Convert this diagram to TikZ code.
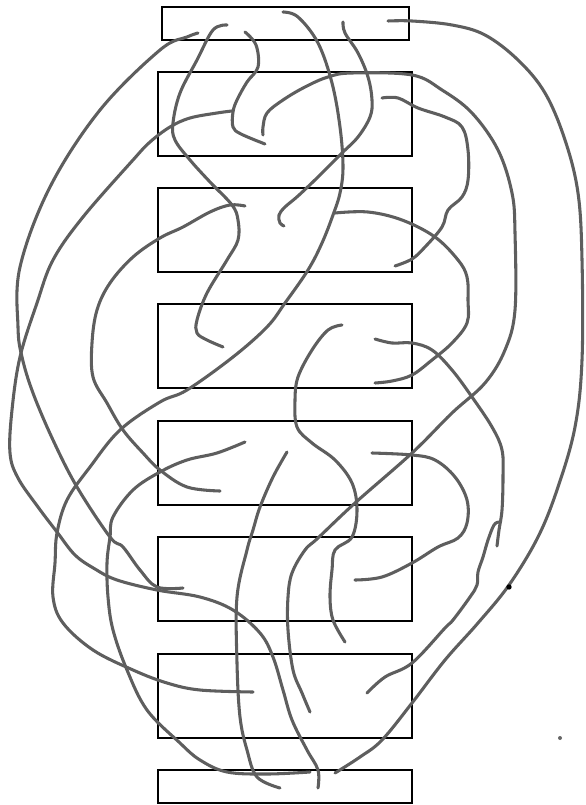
\documentclass[tikz,border=0pt]{standalone}
\begin{document}
\begin{tikzpicture}[x=0.75pt,y=-0.75pt,
    box/.style={draw=black,line width=2pt},
    strand/.style={draw=black!63,line width=2.3pt,line cap=round,line join=round}]
  \useasboundingbox (0,0) rectangle (585,805);
  % boxes
  \draw[box] (162,7) rectangle (409,40);
  \foreach \y in {72,188,304,421,537,654} {
    \draw[box] (158,\y) rectangle (412,\y+84);
  }
  \draw[box] (158,770) rectangle (412,803);

  % strands from the top box
  \draw[strand] plot[smooth,tension=0.6] coordinates {(198,33) (187,37) (160,50) (100,110) (50,187) (20,267) (18,327)
    (22,357) (33,393) (53,440) (77,487) (110,537) (123,547) (140,570) (157,587) (183,588)};
  \draw[strand] plot[smooth,tension=0.6] coordinates {(227,25) (213,30) (197,60) (180,93) (173,123) (175,140) (190,160)
    (210,182) (232,205) (238,220) (238,240) (227,260) (207,293) (197,320) (197,333) (207,340) (223,347)};
  \draw[strand] plot[smooth,tension=0.6] coordinates {(245,32) (256,45) (258,67) (247,82) (237,100) (233,112) (233,127)
    (241,134) (265,144)};
  \draw[strand] plot[smooth,tension=0.6] coordinates {(283,12) (298,17) (318,43) (332,83) (340,127) (343,167) (340,193)
    (333,215) (322,243) (308,270) (285,303) (267,327) (233,357) (187,390) (160,402) (120,430) (90,467) (67,500) (57,533)
    (55,563) (53,597) (63,623) (93,650) (133,670) (167,683) (200,690) (253,692)};
  \draw[strand] plot[smooth,tension=0.6] coordinates {(343,22) (345,33) (358,53) (368,77) (372,100) (370,117) (358,137)
    (342,153) (318,177) (298,196) (285,207) (279,215) (280,223) (284,226)};
  \draw[strand] plot[smooth,tension=0.6] coordinates {(388,21) (412,21) (452,25) (485,35) (518,60) (545,93) (565,140)
    (578,193) (582,260) (582,360) (575,427) (558,487) (538,537) (509,585) (478,623) (445,660) (412,703) (382,740)
    (360,757) (335,773)};

  % strands from box 1
  \draw[strand] plot[smooth,tension=0.6] coordinates {(232,111) (217,113) (190,118) (170,127) (150,142) (133,160) (83,217)
    (53,260) (37,303) (20,357) (12,410) (10,453) (18,478) (38,507) (57,532) (75,555) (95,569) (117,580) (157,590)
    (200,597) (233,610) (260,633) (273,657) (283,690) (292,720) (307,750) (318,770) (318,788)};
  \draw[strand] plot[smooth,tension=0.6] coordinates {(263,135) (263,127) (267,113) (283,100) (305,87) (328,77) (352,73)
    (412,75) (442,90) (472,113) (498,150) (512,193) (515,233) (515,310) (505,350) (485,383) (452,413) (412,453)
    (355,503) (318,538) (305,550) (292,573) (288,597) (288,630) (293,670) (302,693) (310,712)};
  \draw[strand] plot[smooth,tension=0.6] coordinates {(382,98) (398,98) (418,108) (445,117) (462,127) (468,150) (468,180)
    (462,197) (448,210) (442,227) (425,247) (412,259) (395,266)};

  % strands from box 2
  \draw[strand] plot[smooth,tension=0.6] coordinates {(245,206) (230,205) (210,212) (183,227) (160,238) (133,257) (110,283)
    (97,310) (92,343) (93,377) (107,403) (123,430) (143,453) (160,470) (187,487) (220,491)};
  \draw[strand] plot[smooth,tension=0.6] coordinates {(335,213) (368,212) (402,220) (435,237) (458,260) (467,277) (468,300)
    (467,323) (452,343) (432,360) (412,375) (392,381) (375,383)};

  % strands from box 3
  \draw[strand] plot[smooth,tension=0.6] coordinates {(342,325) (328,330) (312,350) (298,377) (295,400) (297,427) (312,443)
    (335,460) (352,483) (357,510) (352,537) (335,550) (332,570) (330,597) (333,620) (345,642)};
  \draw[strand] plot[smooth,tension=0.6] coordinates {(375,339) (392,343) (412,343) (432,350) (452,370) (472,397) (492,427)
    (502,450) (503,477) (502,510) (499,530) (497,546)};
  \draw[strand] plot[smooth,tension=0.6] coordinates {(499,522) (494,525) (488,540) (483,557) (478,572) (477,585) (470,597)
    (453,620) (445,628) (412,663) (385,677) (367,693)};

  % strands from box 4
  \draw[strand] plot[smooth,tension=0.6] coordinates {(245,442) (217,453) (187,460) (160,472) (133,490) (113,517) (110,537)
    (107,563) (108,597) (113,630) (127,670) (147,710) (180,743) (200,760) (227,772) (267,774) (310,772)};
  \draw[strand] plot[smooth,tension=0.6] coordinates {(287,452) (273,477) (260,507) (253,530) (247,550) (237,597) (237,663)
    (240,717) (247,750) (257,777) (280,788)};
  \draw[strand] plot[smooth,tension=0.6] coordinates {(372,453) (412,455) (435,460) (455,477) (467,500) (467,523) (458,538)
    (438,547) (412,563) (382,577) (355,580)};

  % stray marks
  \fill (509,587) circle (2pt);
  \fill[black!60] (560,738) circle (1.5pt);
\end{tikzpicture}
\end{document}
